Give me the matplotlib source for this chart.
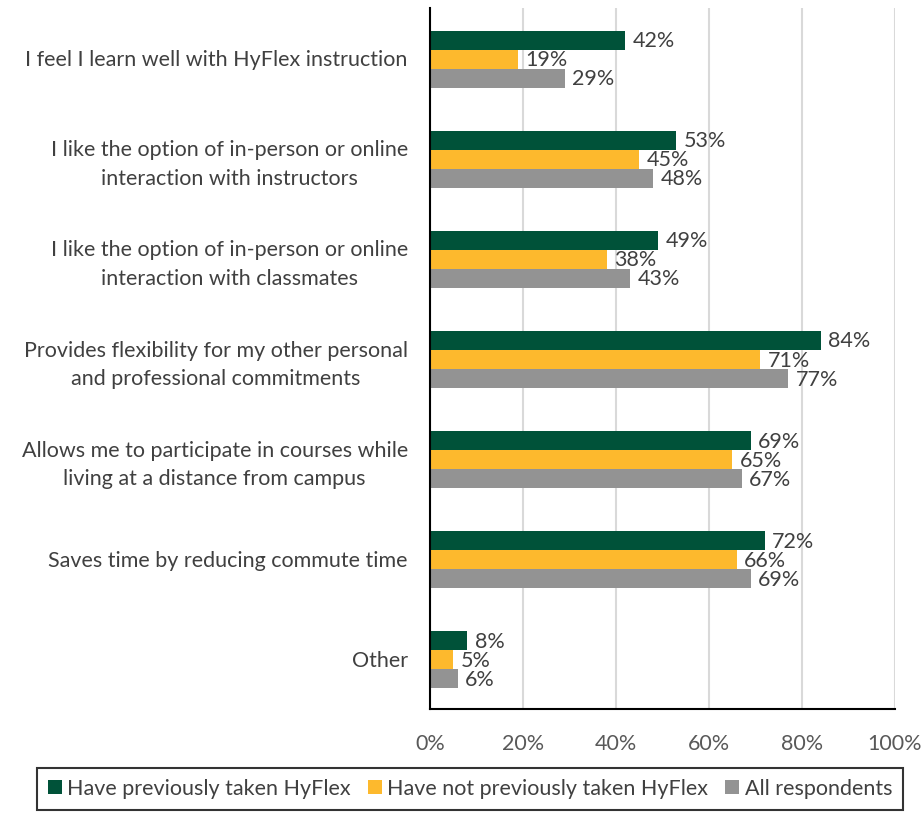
import matplotlib
matplotlib.use("Agg")
import matplotlib.pyplot as plt
import numpy as np

categories = [
    "I feel I learn well with HyFlex instruction",
    "I like the option of in-person or online\ninteraction with instructors",
    "I like the option of in-person or online\ninteraction with classmates",
    "Provides flexibility for my other personal\nand professional commitments",
    "Allows me to participate in courses while\nliving at a distance from campus",
    "Saves time by reducing commute time",
    "Other",
]
series_names = ["Have previously taken HyFlex", "Have not previously taken HyFlex", "All respondents"]
prev_taken = [42, 53, 49, 84, 69, 72, 8]
not_taken = [19, 45, 38, 71, 65, 66, 5]
all_resp = [29, 48, 43, 77, 67, 69, 6]
colors = ["#005239", "#FDB92D", "#939393"]
xticks = [0, 20, 40, 60, 80, 100]

plt.rcParams['font.family'] = ['Lato', 'DejaVu Sans']
fig = plt.figure(figsize=(9.24, 8.13), dpi=100)
ax = fig.add_axes([430/924, 1 - 709/813, (895-430)/924, (709-8)/813])

n = len(categories)
y = np.arange(n)
h = 0.19
data = [prev_taken, not_taken, all_resp]
for i, (vals, c, name) in enumerate(zip(data, colors, series_names)):
    pos = y + (i - 1) * h + 0.01
    ax.barh(pos, vals, height=h, color=c, label=name, zorder=3)
    for p, v in zip(pos, vals):
        ax.text(v + 1.6, p + 0.01, f"{v}%", va="center", ha="left", fontsize=15.5, color="#404040", zorder=4)

ax.set_ylim(n - 0.5, -0.5)
ax.set_xlim(0, 100)
ax.set_yticks(y)
ax.set_yticklabels(categories, fontsize=15.5, color="#404040", ha="right", multialignment="center",
                   linespacing=1.55)
ax.tick_params(axis="y", length=0, pad=16)
ax.set_xticks(xticks)
ax.set_xticklabels([f"{t}%" for t in xticks], fontsize=15.5, color="#595959")
ax.tick_params(axis="x", length=0, pad=18)
ax.grid(axis="x", color="#D9D9D9", linewidth=1.5, zorder=0)
for s in ["top", "right"]:
    ax.spines[s].set_visible(False)
ax.spines["left"].set_color("black")
ax.spines["left"].set_linewidth(1.5)
ax.spines["bottom"].set_color("black")
ax.spines["bottom"].set_linewidth(1.5)
ax.spines["left"].set_zorder(5)

leg = fig.legend(loc="lower center", bbox_to_anchor=(470/924, -3/813), ncol=3, fontsize=15.5,
                 frameon=True, fancybox=False, edgecolor="black", handlelength=0.65, handleheight=0.65,
                 handletextpad=0.25, columnspacing=0.8, borderpad=0.5, borderaxespad=0.3)
leg.get_frame().set_linewidth(1.5)
for t in leg.get_texts():
    t.set_color("#404040")

fig.savefig("out.png", dpi=100)
